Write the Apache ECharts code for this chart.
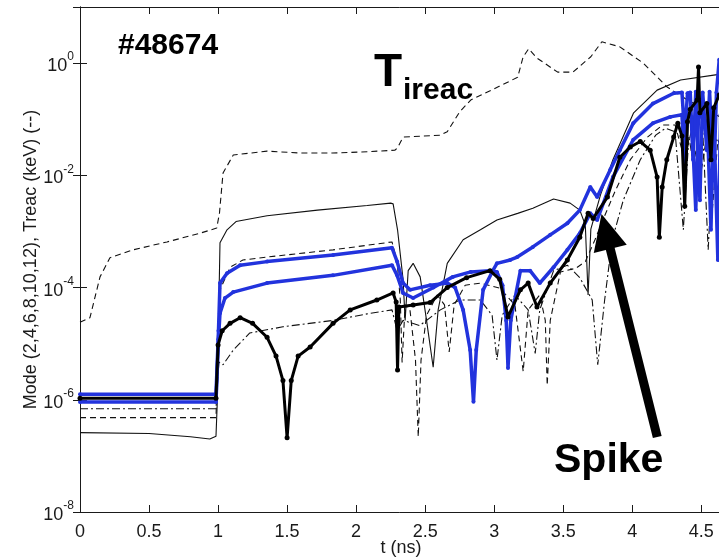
<!DOCTYPE html>
<html>
<head>
<meta charset="utf-8">
<title>#48674 mode amplitudes</title>
<script src="https://cdn.jsdelivr.net/npm/echarts@6.0.0/dist/echarts.min.js"></script>
<style>
  html, body { margin: 0; padding: 0; background: #fff; }
  #chart { width: 719px; height: 557px; }
</style>
</head>
<body>
<div id="chart"></div>
<script>
// ---- data: [t (ns), amplitude] ----
const xTicks = [0, 0.5, 1, 1.5, 2, 2.5, 3, 3.5, 4, 4.5];
const yTickExponents = [-8, -6, -4, -2, 0];

// Treac (keV), dashed
const treac = [
  [0, 2.4e-5], [0.072, 2.9e-5], [0.145, 1.55e-4], [0.217, 3.4e-4], [0.384, 4.7e-4],
  [0.63, 6.5e-4], [0.87, 9.3e-4], [0.99, 1.15e-3], [1.01, 2.1e-3], [1.036, 1.1e-2],
  [1.11, 2.3e-2], [1.355, 2.7e-2], [1.594, 2.5e-2], [1.83, 2.5e-2], [2.03, 2.6e-2],
  [2.28, 2.8e-2], [2.30, 3.1e-2], [2.34, 4.8e-2], [2.61, 5.2e-2], [2.66, 6.0e-2],
  [2.75, 0.135], [2.83, 0.22], [3.04, 0.39], [3.17, 0.56], [3.21, 1.3], [3.25, 1.8],
  [3.31, 1.23], [3.46, 0.69], [3.57, 0.69], [3.70, 1.3], [3.78, 2.4], [3.91, 1.95],
  [4.08, 1.0], [4.25, 0.38], [4.40, 0.22], [4.53, 0.15], [4.65, 0.105]
];

// thin solid mode
const modeSolid = [
  [0, 2.6e-7], [0.5, 2.5e-7], [0.8, 2.2e-7], [0.94, 2.0e-7], [0.985, 2.25e-7],
  [0.995, 1.0e-6], [1.0, 8.7e-6], [1.014, 6.3e-4], [1.065, 1.07e-3], [1.13, 1.5e-3],
  [1.355, 1.9e-3], [1.72, 2.4e-3], [2.08, 2.9e-3], [2.25, 3.2e-3], [2.268, 3.1e-3],
  [2.30, 1.07e-3], [2.34, 1.4e-4], [2.355, 2.6e-5], [2.377, 2.0e-4], [2.413, 2.7e-4],
  [2.464, 1.55e-4], [2.51, 2.6e-5], [2.558, 3.8e-6], [2.594, 4.0e-5], [2.66, 2.7e-4],
  [2.775, 7.1e-4], [2.90, 1.07e-3], [3.02, 1.6e-3], [3.17, 2.1e-3], [3.28, 2.6e-3],
  [3.43, 3.8e-3], [3.55, 3.2e-3], [3.62, 2.4e-3], [3.66, 1.3e-3], [3.68, 7.4e-5],
  [3.70, 1.1e-3], [3.77, 4.5e-3], [3.86, 1.9e-2], [4.01, 0.13], [4.18, 0.33],
  [4.35, 0.50], [4.59, 0.61], [4.65, 0.64]
];

// thin dashed mode
const modeDashed = [
  [0, 4.8e-7], [0.985, 4.8e-7], [1.003, 1.7e-5], [1.014, 9.1e-5], [1.087, 2.3e-4],
  [1.18, 3.1e-4], [1.355, 3.5e-4], [1.833, 4.7e-4], [2.26, 6.5e-4], [2.297, 2.9e-4],
  [2.32, 6.0e-5], [2.333, 4.6e-6], [2.355, 4.9e-5], [2.39, 4.0e-5], [2.43, 5.1e-6],
  [2.45, 2.2e-7], [2.47, 5.1e-6], [2.51, 3.2e-5], [2.587, 7.4e-5], [2.64, 4.9e-5],
  [2.674, 7.1e-6], [2.71, 4.9e-5], [2.79, 1.1e-4], [2.90, 1.2e-4], [3.04, 9.8e-5],
  [3.15, 4.9e-5], [3.21, 3.2e-6], [3.246, 4.0e-5], [3.33, 7.4e-5], [3.37, 2.6e-5],
  [3.384, 1.8e-6], [3.406, 2.6e-5], [3.48, 1.9e-4], [3.59, 2.2e-4], [3.66, 2.9e-4],
  [3.73, 7.1e-4], [3.80, 1.9e-3], [3.88, 5.5e-3], [3.986, 1.9e-2], [4.11, 4.8e-2],
  [4.22, 7.9e-2], [4.31, 7.9e-2], [4.38, 1.9e-2], [4.43, 6.5e-2], [4.49, 8.3e-3],
  [4.54, 5.2e-2], [4.58, 2.4e-3], [4.62, 4.3e-2], [4.65, 2.8e-2]
];

// thin dash-dot mode
const modeDashDot = [
  [0, 6.9e-7], [0.985, 6.9e-7], [1.0, 3.0e-6], [1.007, 4.7e-6], [1.036, 4.2e-6],
  [1.11, 7.7e-6], [1.23, 1.55e-5], [1.47, 2.0e-5], [1.833, 2.6e-5], [2.08, 3.4e-5],
  [2.26, 4.0e-5], [2.297, 1.7e-5], [2.34, 2.6e-5], [2.46, 2.1e-5], [2.61, 4.0e-5],
  [2.75, 6.0e-5], [2.90, 6.0e-5], [2.985, 3.2e-5], [3.02, 5.1e-6], [3.058, 3.2e-5],
  [3.15, 7.4e-5], [3.246, 4.0e-5], [3.297, 6.7e-6], [3.33, 4.0e-5], [3.43, 2.0e-4],
  [3.53, 2.5e-4], [3.62, 1.5e-4], [3.71, 6.0e-5], [3.75, 4.2e-6], [3.80, 6.0e-5],
  [3.855, 7.1e-4], [3.935, 3.6e-3], [4.058, 1.9e-2], [4.17, 5.2e-2], [4.24, 6.9e-2],
  [4.31, 6.0e-2], [4.37, 1.07e-3], [4.41, 5.0e-2], [4.46, 8.3e-3], [4.51, 6.5e-2],
  [4.55, 4.7e-4], [4.59, 5.0e-2], [4.65, 3.0e-2]
];

// thick blue modes
const modeBlueUpper = [
  [0, 1.26e-6], [0.985, 1.26e-6], [1.003, 1.7e-5], [1.014, 1.2e-4], [1.065, 1.8e-4],
  [1.16, 2.5e-4], [1.355, 2.9e-4], [1.833, 3.8e-4], [2.26, 5.1e-4], [2.297, 2.9e-4],
  [2.34, 1.2e-4], [2.39, 9.1e-5], [2.536, 1.1e-4], [2.66, 1.2e-4], [2.717, 1.0e-4],
  [2.775, 4.0e-5], [2.826, 7.7e-6], [2.85, 9.2e-7], [2.87, 7.7e-6], [2.92, 9.1e-5],
  [2.99, 2.0e-4], [3.02, 2.7e-4], [3.116, 3.1e-4], [3.167, 3.5e-4], [3.28, 5.3e-4],
  [3.406, 8.7e-4], [3.53, 1.4e-3], [3.62, 2.4e-3], [3.696, 6.2e-3], [3.746, 4.1e-3],
  [3.84, 1.25e-2], [3.91, 2.8e-2], [4.007, 8.5e-2], [4.15, 0.19], [4.30, 0.29],
  [4.36, 0.30], [4.38, 0.05], [4.40, 0.29], [4.42, 0.30], [4.44, 1.9e-2], [4.46, 0.31],
  [4.49, 3.6e-3], [4.51, 0.30], [4.54, 2.8e-2], [4.56, 0.31], [4.59, 8.3e-3],
  [4.61, 0.30], [4.63, 1.15], [4.65, 0.30]
];
const modeBlueLower = [
  [0, 9.1e-7], [0.985, 9.1e-7], [1.003, 1.2e-5], [1.014, 3.5e-5], [1.05, 6.5e-5],
  [1.11, 8.3e-5], [1.355, 1.2e-4], [1.833, 1.65e-4], [2.26, 2.5e-4], [2.297, 1.65e-4],
  [2.34, 8.0e-5], [2.413, 6.5e-5], [2.56, 1.0e-4], [2.70, 1.55e-4], [2.83, 1.9e-4],
  [2.97, 2.0e-4], [3.02, 1.9e-4], [3.06, 1.1e-4], [3.087, 2.6e-5], [3.10, 3.7e-6],
  [3.12, 2.6e-5], [3.19, 2.0e-4], [3.26, 2.0e-4], [3.33, 1.2e-4], [3.43, 2.3e-4],
  [3.53, 4.7e-4], [3.62, 9.3e-4], [3.696, 2.1e-3], [3.746, 1.6e-3], [3.86, 9.3e-3],
  [4.007, 4.3e-2], [4.15, 8.5e-2], [4.275, 0.11], [4.36, 0.12], [4.38, 1.26e-2],
  [4.40, 0.12], [4.43, 0.11], [4.46, 2.4e-3], [4.48, 0.12], [4.52, 0.10],
  [4.55, 3.0e-2], [4.57, 1.07e-3], [4.59, 0.12], [4.62, 3.1e-4], [4.64, 0.12]
];

// thick black mode with markers
const modeBlack = [
  [0, 1.07e-6], [0.985, 1.07e-6], [1.0, 9.5e-6], [1.03, 1.7e-5], [1.087, 2.3e-5],
  [1.16, 2.9e-5], [1.25, 2.3e-5], [1.355, 1.3e-5], [1.42, 6.0e-6], [1.47, 2.2e-6],
  [1.5, 2.1e-7], [1.53, 2.2e-6], [1.58, 6.0e-6], [1.667, 8.7e-6], [1.833, 2.3e-5],
  [1.957, 4.0e-5], [2.15, 6.0e-5], [2.268, 8.0e-5], [2.29, 5.5e-5], [2.30, 3.4e-6],
  [2.31, 4.5e-5], [2.413, 4.9e-5], [2.536, 5.4e-5], [2.66, 1.0e-4], [2.80, 1.5e-4],
  [2.97, 2.0e-4], [3.04, 1.4e-4], [3.10, 3.0e-5], [3.19, 9.1e-5], [3.246, 1.2e-4],
  [3.31, 4.5e-5], [3.406, 1.2e-4], [3.53, 3.1e-4], [3.62, 7.9e-4], [3.68, 2.1e-3],
  [3.717, 1.7e-3], [3.82, 4.1e-3], [3.91, 2.1e-2], [3.986, 3.2e-2], [4.058, 4.0e-2],
  [4.13, 2.8e-2], [4.18, 9.3e-3], [4.196, 7.9e-4], [4.217, 6.2e-3], [4.25, 1.9e-2],
  [4.30, 4.8e-2], [4.33, 8.5e-2], [4.36, 5.0e-2], [4.38, 2.8e-3], [4.40, 9.0e-2],
  [4.42, 0.15], [4.47, 0.22], [4.48, 0.85], [4.49, 0.13], [4.54, 0.19], [4.57, 1.9e-2],
  [4.59, 0.16], [4.63, 0.27], [4.65, 0.22]
];

// arrow pointing at the spike: [tail, head]
const spikeArrow = [[4.181, 2.17e-7], [3.809, 1.0e-3]];

// ---- drawing ----
const FONT = '"Liberation Sans", Arial, Helvetica, sans-serif';
const INK = '#1a1a1a';
const BLUE = '#2233dd';

function thin(name, data, type) {
  return {
    name, type: 'line', data, showSymbol: false, animation: false, silent: true,
    lineStyle: { color: '#111', width: 1.1, type }, z: 2
  };
}
function thick(name, data, color, width, size, z) {
  return {
    name, type: 'line', data, animation: false, silent: true,
    symbol: 'circle', symbolSize: size, showSymbol: true, showAllSymbol: true,
    itemStyle: { color, borderWidth: 0 },
    lineStyle: { color, width }, z
  };
}

const chart = echarts.init(document.getElementById('chart'), null, { renderer: 'canvas' });

const xLabel = v => (xTicks.some(t => Math.abs(t - v) < 1e-9) ? String(v) : '');
const yLabel = v => {
  const e = Math.round(Math.log10(v));
  return yTickExponents.includes(e) ? '{b|10}{s|' + e + '}' : '';
};

const blackSeries = thick('Mode (black)', modeBlack, '#000', 3, 5, 6);
blackSeries.markLine = {
  silent: true, animation: false,
  symbol: ['none', 'triangle'], symbolSize: [34, 36],
  label: { show: false },
  lineStyle: { color: '#000', width: 9, type: 'solid' },
  itemStyle: { color: '#000' },
  data: [[{ coord: spikeArrow[0] }, { coord: spikeArrow[1] }]]
};

chart.setOption({
  backgroundColor: '#fff',
  animation: false,
  textStyle: { fontFamily: FONT },
  grid: { left: 80, right: -3, top: 7, bottom: 45, outerBoundsMode: 'none', containLabel: false },
  xAxis: [
    {
      type: 'value', min: 0, max: 4.65, interval: 0.5, position: 'bottom',
      name: 't (ns)', nameLocation: 'middle', nameGap: 27, nameMoveOverlap: false,
      nameTextStyle: { fontSize: 18, color: INK, fontFamily: FONT },
      axisLine: { lineStyle: { color: INK, width: 1 } },
      axisTick: { inside: true, length: 7, lineStyle: { color: INK } },
      axisLabel: { formatter: xLabel, fontSize: 18, color: INK, margin: 11, fontFamily: FONT, showMaxLabel: false },
      splitLine: { show: false }
    },
    {
      type: 'value', min: 0, max: 4.65, interval: 0.5, position: 'top',
      axisLine: { lineStyle: { color: INK, width: 1 } },
      axisTick: { inside: true, length: 7, lineStyle: { color: INK } },
      axisLabel: { show: false }, splitLine: { show: false }
    }
  ],
  yAxis: [
    {
      type: 'log', logBase: 10, min: 1e-8, max: 10, interval: 2, position: 'left',
      name: 'Mode (2,4,6,8,10,12), Treac (keV) (--)', nameLocation: 'middle', nameGap: 40,
      nameMoveOverlap: false,
      nameTextStyle: { fontSize: 18, color: INK, fontFamily: FONT },
      axisLine: { lineStyle: { color: INK, width: 1 } },
      axisTick: { inside: true, length: 7, lineStyle: { color: INK } },
      minorTick: { show: false },
      axisLabel: {
        formatter: yLabel, margin: 6, color: INK, fontFamily: FONT,
        rich: {
          b: { fontSize: 18, color: INK, fontFamily: FONT, lineHeight: 24, verticalAlign: 'bottom' },
          s: { fontSize: 12, color: INK, fontFamily: FONT, lineHeight: 24, verticalAlign: 'top' }
        }
      },
      splitLine: { show: false }
    },
    {
      type: 'log', logBase: 10, min: 1e-8, max: 10, interval: 2, position: 'right',
      axisLine: { lineStyle: { color: INK, width: 1 } },
      axisTick: { inside: true, length: 7, lineStyle: { color: INK } },
      minorTick: { show: false },
      axisLabel: { show: false }, splitLine: { show: false }
    }
  ],
  series: [
    thin('Treac', treac, [6, 4]),
    thin('Mode (solid)', modeSolid, 'solid'),
    thin('Mode (dashed)', modeDashed, [6, 4]),
    thin('Mode (dash-dot)', modeDashDot, [8, 3, 2, 3]),
    thick('Mode (blue 1)', modeBlueUpper, BLUE, 3.5, 4, 4),
    thick('Mode (blue 2)', modeBlueLower, BLUE, 3.5, 4, 5),
    blackSeries
  ],
  graphic: [
    {
      type: 'text', left: 118, top: 31, silent: true,
      style: { text: '#48674', font: 'bold 30px ' + FONT, fill: '#000' }
    },
    {
      type: 'text', left: 374, top: 50, silent: true,
      style: { text: 'T', font: 'bold 46px ' + FONT, fill: '#000' }
    },
    {
      type: 'text', left: 403, top: 76, silent: true,
      style: { text: 'ireac', font: 'bold 30px ' + FONT, fill: '#000' }
    },
    {
      type: 'text', left: 554, top: 440, silent: true,
      style: { text: 'Spike', font: 'bold 41px ' + FONT, fill: '#000' }
    }
  ]
});
</script>
</body>
</html>
